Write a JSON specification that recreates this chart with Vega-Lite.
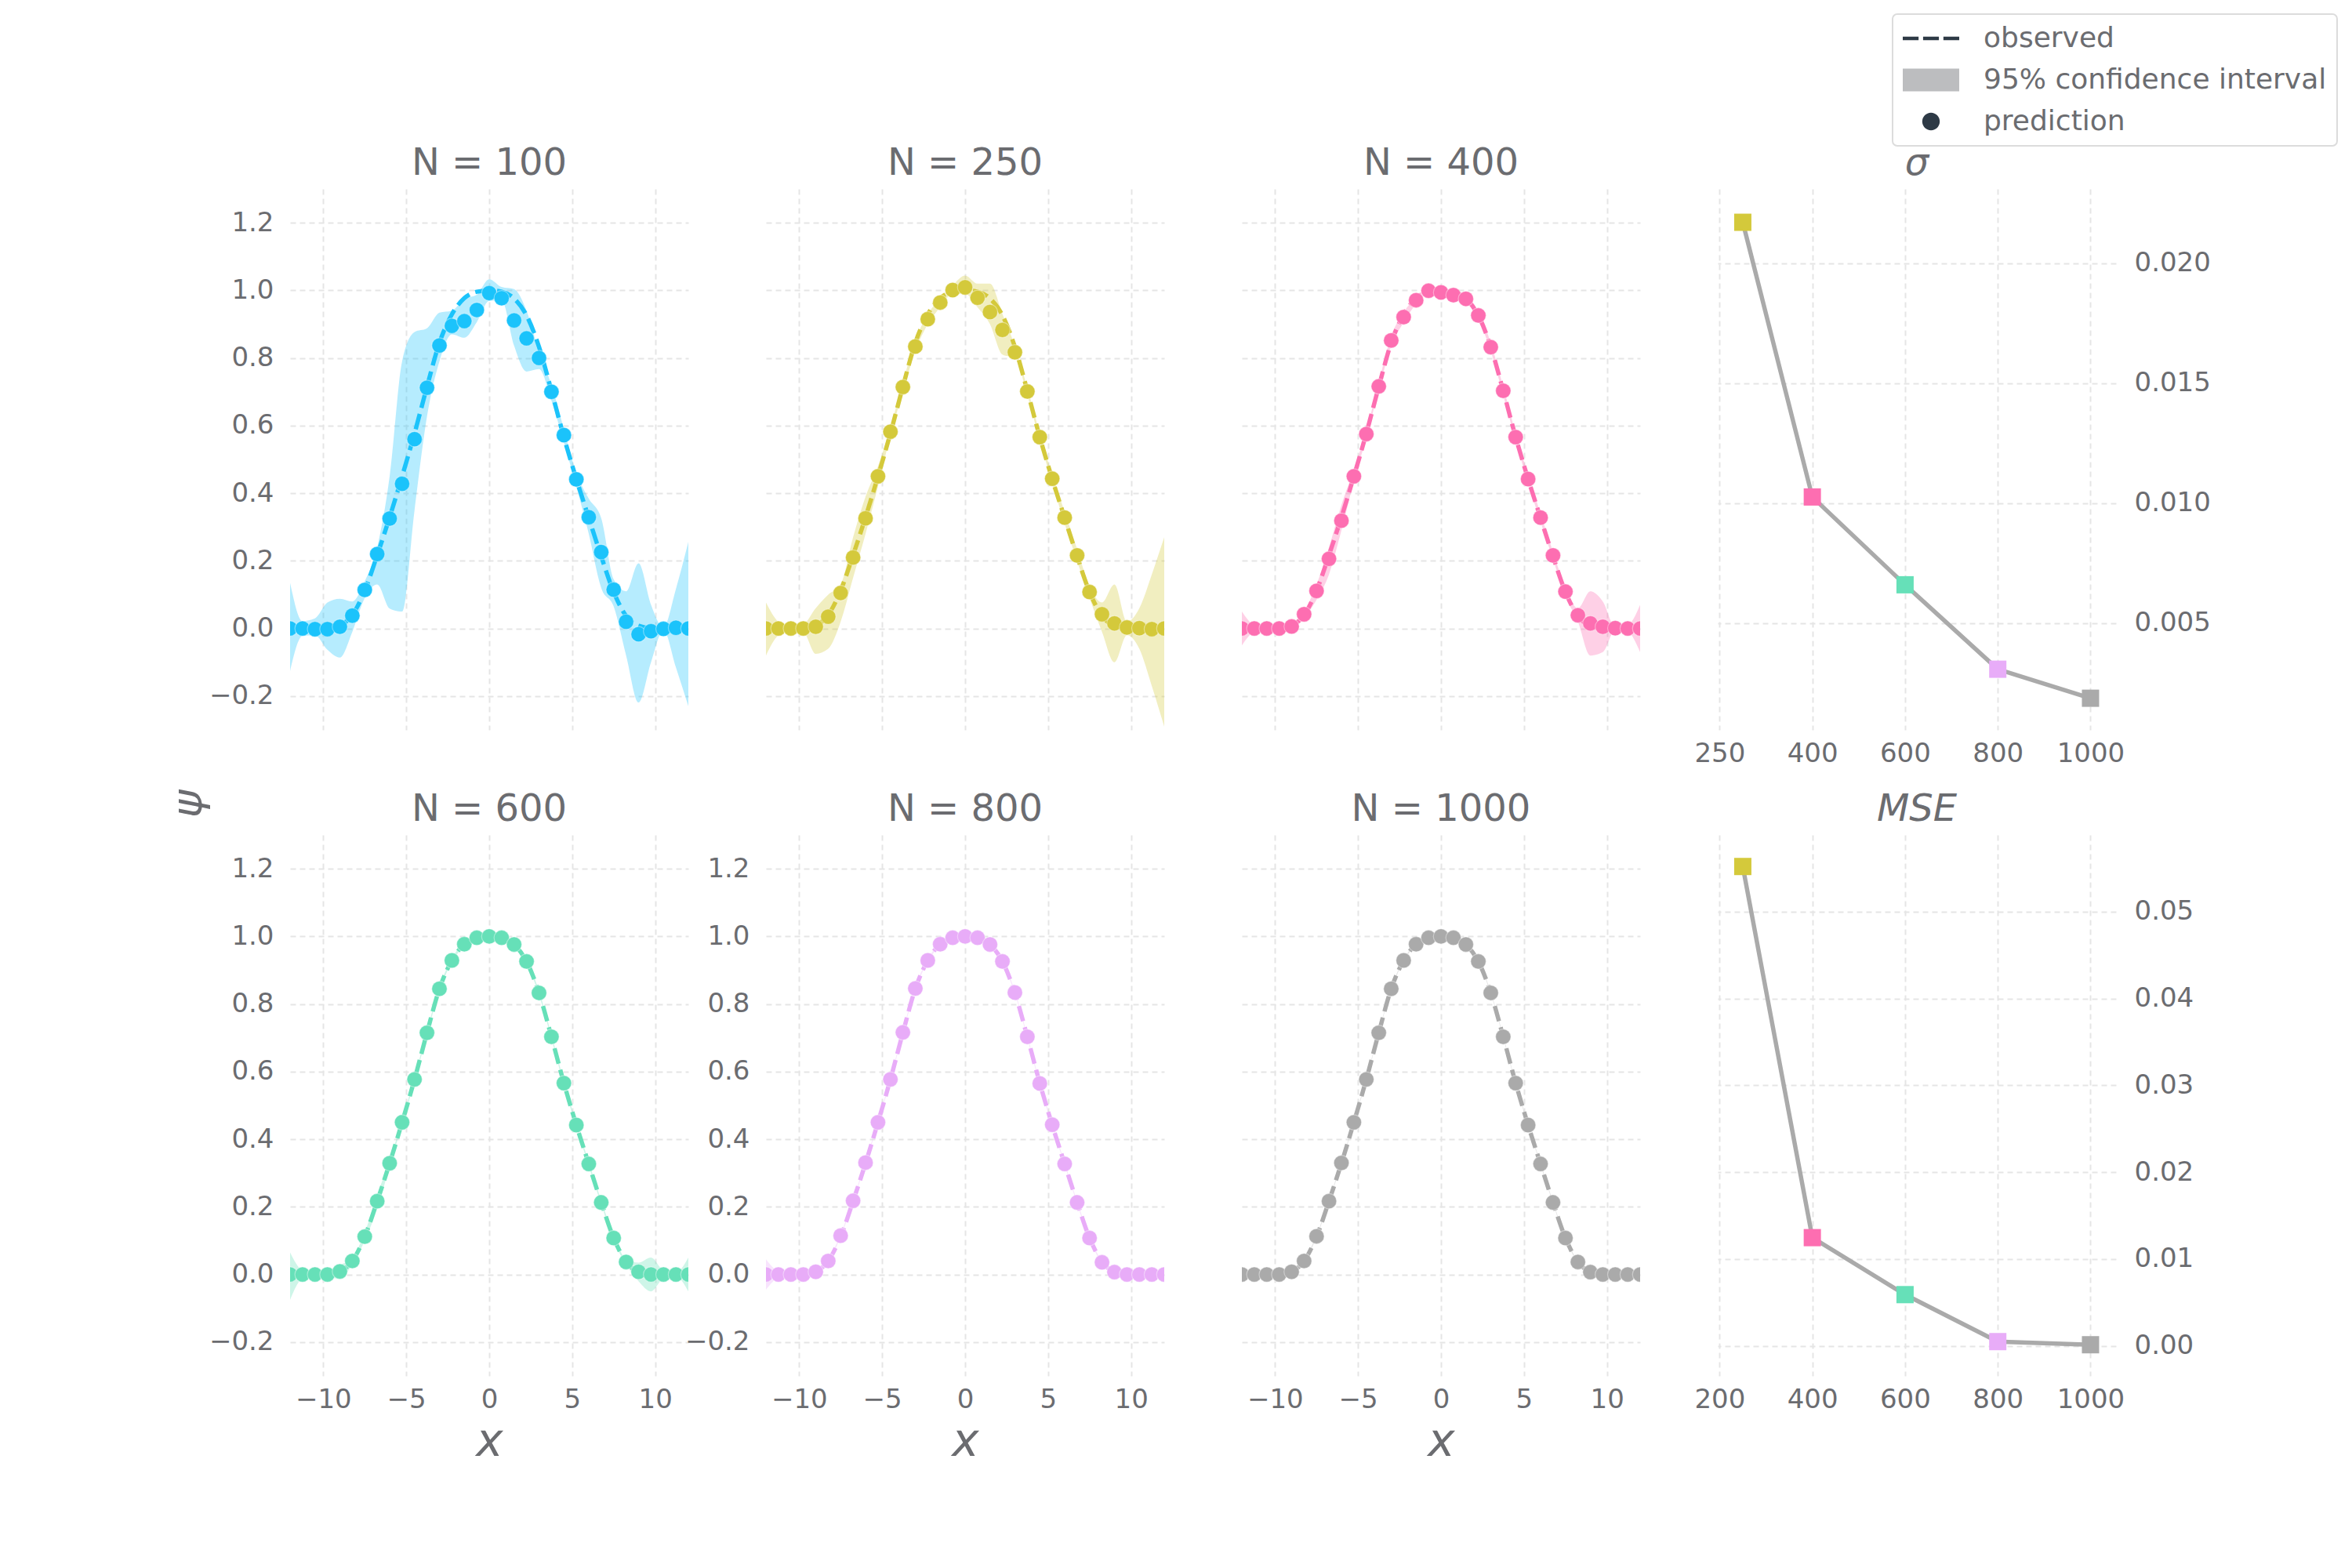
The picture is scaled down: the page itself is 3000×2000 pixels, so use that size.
{
  "$schema": "https://vega.github.io/schema/vega-lite/v6.json",
  "background": "#ffffff",
  "padding": {"left": 213, "top": 17, "right": 0, "bottom": 30},
  "columns": 4,
  "spacing": {"row": 134, "column": 99},
  "bounds": "flush",
  "datasets": {
    "obs": [
      {"x": -12, "y": 0}, {"x": -11.25, "y": 0}, {"x": -10.5, "y": 0}, {"x": -9.75, "y": 0.001},
      {"x": -9, "y": 0.009}, {"x": -8.25, "y": 0.04}, {"x": -7.5, "y": 0.112}, {"x": -6.75, "y": 0.217},
      {"x": -6, "y": 0.329}, {"x": -5.25, "y": 0.45}, {"x": -4.5, "y": 0.577}, {"x": -3.75, "y": 0.715},
      {"x": -3, "y": 0.845}, {"x": -2.25, "y": 0.929}, {"x": -1.5, "y": 0.977}, {"x": -0.75, "y": 0.996},
      {"x": 0, "y": 1}, {"x": 0.75, "y": 0.996}, {"x": 1.5, "y": 0.976}, {"x": 2.25, "y": 0.926},
      {"x": 3, "y": 0.833}, {"x": 3.75, "y": 0.703}, {"x": 4.5, "y": 0.566}, {"x": 5.25, "y": 0.442},
      {"x": 6, "y": 0.327}, {"x": 6.75, "y": 0.213}, {"x": 7.5, "y": 0.108}, {"x": 8.25, "y": 0.037},
      {"x": 9, "y": 0.008}, {"x": 9.75, "y": 0.001}, {"x": 10.5, "y": 0}, {"x": 11.25, "y": 0}, {"x": 12, "y": 0}
    ],
    "pred": [
      {"N": 100, "x": -12, "y": 0, "lo": -0.126, "hi": 0.135},
      {"N": 100, "x": -11.25, "y": 0, "lo": -0.022, "hi": 0.022},
      {"N": 100, "x": -10.5, "y": -0.002, "lo": -0.02, "hi": 0.03},
      {"N": 100, "x": -9.75, "y": -0.002, "lo": -0.063, "hi": 0.077},
      {"N": 100, "x": -9, "y": 0.005, "lo": -0.086, "hi": 0.088},
      {"N": 100, "x": -8.25, "y": 0.038, "lo": -0.01, "hi": 0.08},
      {"N": 100, "x": -7.5, "y": 0.114, "lo": 0.09, "hi": 0.14},
      {"N": 100, "x": -6.75, "y": 0.22, "lo": 0.13, "hi": 0.24},
      {"N": 100, "x": -6, "y": 0.325, "lo": 0.059, "hi": 0.45},
      {"N": 100, "x": -5.25, "y": 0.428, "lo": 0.05, "hi": 0.79},
      {"N": 100, "x": -4.5, "y": 0.56, "lo": 0.35, "hi": 0.877},
      {"N": 100, "x": -3.75, "y": 0.712, "lo": 0.627, "hi": 0.888},
      {"N": 100, "x": -3, "y": 0.837, "lo": 0.79, "hi": 0.934},
      {"N": 100, "x": -2.25, "y": 0.895, "lo": 0.87, "hi": 0.94},
      {"N": 100, "x": -1.5, "y": 0.909, "lo": 0.86, "hi": 0.975},
      {"N": 100, "x": -0.75, "y": 0.942, "lo": 0.906, "hi": 0.987},
      {"N": 100, "x": 0, "y": 0.992, "lo": 0.969, "hi": 1.033},
      {"N": 100, "x": 0.75, "y": 0.977, "lo": 0.97, "hi": 1.01},
      {"N": 100, "x": 1.5, "y": 0.911, "lo": 0.836, "hi": 1.004},
      {"N": 100, "x": 2.25, "y": 0.858, "lo": 0.76, "hi": 0.94},
      {"N": 100, "x": 3, "y": 0.8, "lo": 0.767, "hi": 0.819},
      {"N": 100, "x": 3.75, "y": 0.7, "lo": 0.674, "hi": 0.72},
      {"N": 100, "x": 4.5, "y": 0.572, "lo": 0.55, "hi": 0.59},
      {"N": 100, "x": 5.25, "y": 0.441, "lo": 0.42, "hi": 0.46},
      {"N": 100, "x": 6, "y": 0.329, "lo": 0.28, "hi": 0.384},
      {"N": 100, "x": 6.75, "y": 0.226, "lo": 0.12, "hi": 0.326},
      {"N": 100, "x": 7.5, "y": 0.115, "lo": 0.065, "hi": 0.145},
      {"N": 100, "x": 8.25, "y": 0.02, "lo": -0.08, "hi": 0.11},
      {"N": 100, "x": 9, "y": -0.017, "lo": -0.219, "hi": 0.193},
      {"N": 100, "x": 9.75, "y": -0.008, "lo": -0.1, "hi": 0.07},
      {"N": 100, "x": 10.5, "y": -0.001, "lo": -0.005, "hi": 0.003},
      {"N": 100, "x": 11.25, "y": 0.002, "lo": -0.115, "hi": 0.117},
      {"N": 100, "x": 12, "y": 0, "lo": -0.23, "hi": 0.256},

      {"N": 250, "x": -12, "y": 0, "lo": -0.08, "hi": 0.077},
      {"N": 250, "x": -11.25, "y": 0, "lo": -0.02, "hi": 0.02},
      {"N": 250, "x": -10.5, "y": 0, "lo": -0.005, "hi": 0.005},
      {"N": 250, "x": -9.75, "y": 0, "lo": -0.01, "hi": 0.012},
      {"N": 250, "x": -9, "y": 0.005, "lo": -0.075, "hi": 0.06},
      {"N": 250, "x": -8.25, "y": 0.035, "lo": -0.06, "hi": 0.1},
      {"N": 250, "x": -7.5, "y": 0.105, "lo": 0.02, "hi": 0.13},
      {"N": 250, "x": -6.75, "y": 0.21, "lo": 0.15, "hi": 0.27},
      {"N": 250, "x": -6, "y": 0.326, "lo": 0.28, "hi": 0.39},
      {"N": 250, "x": -5.25, "y": 0.45, "lo": 0.42, "hi": 0.48},
      {"N": 250, "x": -4.5, "y": 0.582, "lo": 0.57, "hi": 0.595},
      {"N": 250, "x": -3.75, "y": 0.714, "lo": 0.7, "hi": 0.728},
      {"N": 250, "x": -3, "y": 0.834, "lo": 0.82, "hi": 0.85},
      {"N": 250, "x": -2.25, "y": 0.915, "lo": 0.9, "hi": 0.93},
      {"N": 250, "x": -1.5, "y": 0.964, "lo": 0.95, "hi": 0.975},
      {"N": 250, "x": -0.75, "y": 1.001, "lo": 0.99, "hi": 1.015},
      {"N": 250, "x": 0, "y": 1.009, "lo": 0.99, "hi": 1.044},
      {"N": 250, "x": 0.75, "y": 0.978, "lo": 0.95, "hi": 1.02},
      {"N": 250, "x": 1.5, "y": 0.936, "lo": 0.9, "hi": 1.02},
      {"N": 250, "x": 2.25, "y": 0.883, "lo": 0.81, "hi": 0.93},
      {"N": 250, "x": 3, "y": 0.817, "lo": 0.8, "hi": 0.835},
      {"N": 250, "x": 3.75, "y": 0.701, "lo": 0.69, "hi": 0.712},
      {"N": 250, "x": 4.5, "y": 0.566, "lo": 0.555, "hi": 0.577},
      {"N": 250, "x": 5.25, "y": 0.443, "lo": 0.43, "hi": 0.455},
      {"N": 250, "x": 6, "y": 0.328, "lo": 0.31, "hi": 0.345},
      {"N": 250, "x": 6.75, "y": 0.216, "lo": 0.2, "hi": 0.235},
      {"N": 250, "x": 7.5, "y": 0.108, "lo": 0.09, "hi": 0.125},
      {"N": 250, "x": 8.25, "y": 0.042, "lo": -0.01, "hi": 0.077},
      {"N": 250, "x": 9, "y": 0.015, "lo": -0.1, "hi": 0.13},
      {"N": 250, "x": 9.75, "y": 0.003, "lo": -0.02, "hi": 0.02},
      {"N": 250, "x": 10.5, "y": 0.001, "lo": -0.06, "hi": 0.06},
      {"N": 250, "x": 11.25, "y": -0.002, "lo": -0.17, "hi": 0.16},
      {"N": 250, "x": 12, "y": 0, "lo": -0.29, "hi": 0.27},

      {"N": 400, "x": -12, "y": 0, "lo": -0.05, "hi": 0.05},
      {"N": 400, "x": -11.25, "y": 0, "lo": -0.01, "hi": 0.01},
      {"N": 400, "x": -10.5, "y": 0, "lo": -0.003, "hi": 0.003},
      {"N": 400, "x": -9.75, "y": 0, "lo": -0.003, "hi": 0.003},
      {"N": 400, "x": -9, "y": 0.006, "lo": 0, "hi": 0.012},
      {"N": 400, "x": -8.25, "y": 0.042, "lo": 0.03, "hi": 0.05},
      {"N": 400, "x": -7.5, "y": 0.111, "lo": 0.085, "hi": 0.13},
      {"N": 400, "x": -6.75, "y": 0.206, "lo": 0.16, "hi": 0.24},
      {"N": 400, "x": -6, "y": 0.319, "lo": 0.29, "hi": 0.365},
      {"N": 400, "x": -5.25, "y": 0.45, "lo": 0.435, "hi": 0.47},
      {"N": 400, "x": -4.5, "y": 0.575, "lo": 0.565, "hi": 0.585},
      {"N": 400, "x": -3.75, "y": 0.716, "lo": 0.705, "hi": 0.727},
      {"N": 400, "x": -3, "y": 0.852, "lo": 0.835, "hi": 0.865},
      {"N": 400, "x": -2.25, "y": 0.921, "lo": 0.905, "hi": 0.935},
      {"N": 400, "x": -1.5, "y": 0.971, "lo": 0.96, "hi": 0.98},
      {"N": 400, "x": -0.75, "y": 0.999, "lo": 0.99, "hi": 1.005},
      {"N": 400, "x": 0, "y": 0.994, "lo": 0.985, "hi": 1},
      {"N": 400, "x": 0.75, "y": 0.986, "lo": 0.978, "hi": 0.995},
      {"N": 400, "x": 1.5, "y": 0.975, "lo": 0.965, "hi": 0.985},
      {"N": 400, "x": 2.25, "y": 0.926, "lo": 0.915, "hi": 0.937},
      {"N": 400, "x": 3, "y": 0.832, "lo": 0.82, "hi": 0.845},
      {"N": 400, "x": 3.75, "y": 0.703, "lo": 0.69, "hi": 0.715},
      {"N": 400, "x": 4.5, "y": 0.566, "lo": 0.555, "hi": 0.577},
      {"N": 400, "x": 5.25, "y": 0.442, "lo": 0.43, "hi": 0.455},
      {"N": 400, "x": 6, "y": 0.328, "lo": 0.315, "hi": 0.34},
      {"N": 400, "x": 6.75, "y": 0.216, "lo": 0.205, "hi": 0.227},
      {"N": 400, "x": 7.5, "y": 0.109, "lo": 0.095, "hi": 0.12},
      {"N": 400, "x": 8.25, "y": 0.039, "lo": 0.02, "hi": 0.06},
      {"N": 400, "x": 9, "y": 0.015, "lo": -0.08, "hi": 0.11},
      {"N": 400, "x": 9.75, "y": 0.005, "lo": -0.07, "hi": 0.08},
      {"N": 400, "x": 10.5, "y": 0.001, "lo": -0.005, "hi": 0.005},
      {"N": 400, "x": 11.25, "y": 0, "lo": -0.01, "hi": 0.01},
      {"N": 400, "x": 12, "y": 0, "lo": -0.07, "hi": 0.07},

      {"N": 600, "x": -12, "y": 0, "lo": -0.075, "hi": 0.065},
      {"N": 600, "x": -11.25, "y": 0, "lo": -0.012, "hi": 0.012},
      {"N": 600, "x": -10.5, "y": 0, "lo": -0.005, "hi": 0.005},
      {"N": 600, "x": -9.75, "y": 0, "lo": -0.01, "hi": 0.01},
      {"N": 600, "x": -9, "y": 0.009, "lo": -0.012, "hi": 0.028},
      {"N": 600, "x": -8.25, "y": 0.04, "lo": 0.03, "hi": 0.05},
      {"N": 600, "x": -7.5, "y": 0.112, "lo": 0.1, "hi": 0.124},
      {"N": 600, "x": -6.75, "y": 0.217, "lo": 0.195, "hi": 0.235},
      {"N": 600, "x": -6, "y": 0.329, "lo": 0.32, "hi": 0.338},
      {"N": 600, "x": -5.25, "y": 0.45, "lo": 0.444, "hi": 0.456},
      {"N": 600, "x": -4.5, "y": 0.577, "lo": 0.571, "hi": 0.583},
      {"N": 600, "x": -3.75, "y": 0.715, "lo": 0.709, "hi": 0.721},
      {"N": 600, "x": -3, "y": 0.845, "lo": 0.839, "hi": 0.851},
      {"N": 600, "x": -2.25, "y": 0.929, "lo": 0.923, "hi": 0.935},
      {"N": 600, "x": -1.5, "y": 0.977, "lo": 0.971, "hi": 0.983},
      {"N": 600, "x": -0.75, "y": 0.996, "lo": 0.99, "hi": 1.002},
      {"N": 600, "x": 0, "y": 1, "lo": 0.994, "hi": 1.006},
      {"N": 600, "x": 0.75, "y": 0.996, "lo": 0.99, "hi": 1.002},
      {"N": 600, "x": 1.5, "y": 0.976, "lo": 0.97, "hi": 0.982},
      {"N": 600, "x": 2.25, "y": 0.926, "lo": 0.92, "hi": 0.932},
      {"N": 600, "x": 3, "y": 0.833, "lo": 0.827, "hi": 0.839},
      {"N": 600, "x": 3.75, "y": 0.703, "lo": 0.697, "hi": 0.709},
      {"N": 600, "x": 4.5, "y": 0.566, "lo": 0.56, "hi": 0.572},
      {"N": 600, "x": 5.25, "y": 0.442, "lo": 0.436, "hi": 0.448},
      {"N": 600, "x": 6, "y": 0.327, "lo": 0.321, "hi": 0.333},
      {"N": 600, "x": 6.75, "y": 0.213, "lo": 0.207, "hi": 0.219},
      {"N": 600, "x": 7.5, "y": 0.108, "lo": 0.1, "hi": 0.116},
      {"N": 600, "x": 8.25, "y": 0.037, "lo": 0.03, "hi": 0.045},
      {"N": 600, "x": 9, "y": 0.008, "lo": -0.02, "hi": 0.035},
      {"N": 600, "x": 9.75, "y": 0, "lo": -0.05, "hi": 0.05},
      {"N": 600, "x": 10.5, "y": 0, "lo": -0.012, "hi": 0.012},
      {"N": 600, "x": 11.25, "y": 0, "lo": -0.006, "hi": 0.006},
      {"N": 600, "x": 12, "y": 0, "lo": -0.05, "hi": 0.05},

      {"N": 800, "x": -12, "y": 0, "lo": -0.045, "hi": 0.045},
      {"N": 800, "x": -11.25, "y": 0, "lo": -0.01, "hi": 0.01},
      {"N": 800, "x": -10.5, "y": 0, "lo": -0.004, "hi": 0.004},
      {"N": 800, "x": -9.75, "y": 0, "lo": -0.004, "hi": 0.004},
      {"N": 800, "x": -9, "y": 0.008, "lo": 0.004, "hi": 0.012},
      {"N": 800, "x": -8.25, "y": 0.04, "lo": 0.036, "hi": 0.044},
      {"N": 800, "x": -7.5, "y": 0.115, "lo": 0.111, "hi": 0.119},
      {"N": 800, "x": -6.75, "y": 0.218, "lo": 0.214, "hi": 0.222},
      {"N": 800, "x": -6, "y": 0.331, "lo": 0.327, "hi": 0.335},
      {"N": 800, "x": -5.25, "y": 0.45, "lo": 0.446, "hi": 0.454},
      {"N": 800, "x": -4.5, "y": 0.577, "lo": 0.573, "hi": 0.581},
      {"N": 800, "x": -3.75, "y": 0.716, "lo": 0.712, "hi": 0.72},
      {"N": 800, "x": -3, "y": 0.846, "lo": 0.842, "hi": 0.85},
      {"N": 800, "x": -2.25, "y": 0.929, "lo": 0.925, "hi": 0.933},
      {"N": 800, "x": -1.5, "y": 0.977, "lo": 0.973, "hi": 0.981},
      {"N": 800, "x": -0.75, "y": 0.996, "lo": 0.992, "hi": 1},
      {"N": 800, "x": 0, "y": 1, "lo": 0.996, "hi": 1.004},
      {"N": 800, "x": 0.75, "y": 0.996, "lo": 0.992, "hi": 1},
      {"N": 800, "x": 1.5, "y": 0.976, "lo": 0.972, "hi": 0.98},
      {"N": 800, "x": 2.25, "y": 0.926, "lo": 0.922, "hi": 0.93},
      {"N": 800, "x": 3, "y": 0.834, "lo": 0.83, "hi": 0.838},
      {"N": 800, "x": 3.75, "y": 0.703, "lo": 0.699, "hi": 0.707},
      {"N": 800, "x": 4.5, "y": 0.565, "lo": 0.561, "hi": 0.569},
      {"N": 800, "x": 5.25, "y": 0.443, "lo": 0.439, "hi": 0.447},
      {"N": 800, "x": 6, "y": 0.327, "lo": 0.323, "hi": 0.331},
      {"N": 800, "x": 6.75, "y": 0.213, "lo": 0.209, "hi": 0.217},
      {"N": 800, "x": 7.5, "y": 0.108, "lo": 0.104, "hi": 0.112},
      {"N": 800, "x": 8.25, "y": 0.036, "lo": 0.032, "hi": 0.04},
      {"N": 800, "x": 9, "y": 0.007, "lo": 0.003, "hi": 0.011},
      {"N": 800, "x": 9.75, "y": 0, "lo": -0.004, "hi": 0.004},
      {"N": 800, "x": 10.5, "y": 0, "lo": -0.004, "hi": 0.004},
      {"N": 800, "x": 11.25, "y": 0, "lo": -0.006, "hi": 0.006},
      {"N": 800, "x": 12, "y": 0, "lo": -0.02, "hi": 0.02},

      {"N": 1000, "x": -12, "y": 0, "lo": -0.012, "hi": 0.012},
      {"N": 1000, "x": -11.25, "y": 0, "lo": -0.003, "hi": 0.003},
      {"N": 1000, "x": -10.5, "y": 0, "lo": -0.003, "hi": 0.003},
      {"N": 1000, "x": -9.75, "y": 0, "lo": -0.003, "hi": 0.003},
      {"N": 1000, "x": -9, "y": 0.008, "lo": 0.005, "hi": 0.011},
      {"N": 1000, "x": -8.25, "y": 0.04, "lo": 0.037, "hi": 0.043},
      {"N": 1000, "x": -7.5, "y": 0.113, "lo": 0.11, "hi": 0.116},
      {"N": 1000, "x": -6.75, "y": 0.217, "lo": 0.214, "hi": 0.22},
      {"N": 1000, "x": -6, "y": 0.33, "lo": 0.327, "hi": 0.333},
      {"N": 1000, "x": -5.25, "y": 0.45, "lo": 0.447, "hi": 0.453},
      {"N": 1000, "x": -4.5, "y": 0.577, "lo": 0.574, "hi": 0.58},
      {"N": 1000, "x": -3.75, "y": 0.715, "lo": 0.712, "hi": 0.718},
      {"N": 1000, "x": -3, "y": 0.845, "lo": 0.842, "hi": 0.848},
      {"N": 1000, "x": -2.25, "y": 0.929, "lo": 0.926, "hi": 0.932},
      {"N": 1000, "x": -1.5, "y": 0.977, "lo": 0.974, "hi": 0.98},
      {"N": 1000, "x": -0.75, "y": 0.996, "lo": 0.993, "hi": 0.999},
      {"N": 1000, "x": 0, "y": 1, "lo": 0.997, "hi": 1.003},
      {"N": 1000, "x": 0.75, "y": 0.996, "lo": 0.993, "hi": 0.999},
      {"N": 1000, "x": 1.5, "y": 0.976, "lo": 0.973, "hi": 0.979},
      {"N": 1000, "x": 2.25, "y": 0.926, "lo": 0.923, "hi": 0.929},
      {"N": 1000, "x": 3, "y": 0.833, "lo": 0.83, "hi": 0.836},
      {"N": 1000, "x": 3.75, "y": 0.703, "lo": 0.7, "hi": 0.706},
      {"N": 1000, "x": 4.5, "y": 0.566, "lo": 0.563, "hi": 0.569},
      {"N": 1000, "x": 5.25, "y": 0.442, "lo": 0.439, "hi": 0.445},
      {"N": 1000, "x": 6, "y": 0.327, "lo": 0.324, "hi": 0.33},
      {"N": 1000, "x": 6.75, "y": 0.213, "lo": 0.21, "hi": 0.216},
      {"N": 1000, "x": 7.5, "y": 0.108, "lo": 0.105, "hi": 0.111},
      {"N": 1000, "x": 8.25, "y": 0.037, "lo": 0.034, "hi": 0.04},
      {"N": 1000, "x": 9, "y": 0.007, "lo": 0.004, "hi": 0.01},
      {"N": 1000, "x": 9.75, "y": 0, "lo": -0.003, "hi": 0.003},
      {"N": 1000, "x": 10.5, "y": 0, "lo": -0.003, "hi": 0.003},
      {"N": 1000, "x": 11.25, "y": 0, "lo": -0.003, "hi": 0.003},
      {"N": 1000, "x": 12, "y": 0, "lo": -0.012, "hi": 0.012}
    ],
    "stats": [
      {"N": 250, "sigma": 0.0217, "mse": 0.0552},
      {"N": 400, "sigma": 0.01025, "mse": 0.01247},
      {"N": 600, "sigma": 0.00659, "mse": 0.00591},
      {"N": 800, "sigma": 0.00307, "mse": 0.0005},
      {"N": 1000, "sigma": 0.00186, "mse": 0.00014}
    ]
  },
  "concat": [
    {
      "width": 508, "height": 690,
      "title": "N = 100",
      "layer": [
        {
          "data": {"name": "pred"},
          "transform": [{"filter": "datum.N == 100"}],
          "mark": {"type": "area", "color": "#1bc3fb", "opacity": 0.32, "interpolate": "monotone", "clip": true},
          "encoding": {
            "x": {"field": "x", "type": "quantitative", "scale": {"domain": [-12, 12]}, "axis": {"values": [-10, -5, 0, 5, 10], "labels": false, "title": null}},
            "y": {"field": "lo", "type": "quantitative", "scale": {"domain": [-0.3, 1.3]}, "axis": {"values": [-0.2, 0, 0.2, 0.4, 0.6, 0.8, 1, 1.2], "format": ".1f", "title": "ψ", "titleX": -103, "titleY": 784, "titleAngle": 270, "titleAlign": "center", "titleBaseline": "bottom", "titleFontSize": 54}},
            "y2": {"field": "hi"}
          }
        },
        {
          "data": {"name": "obs"},
          "mark": {"type": "line", "color": "#1bc3fb", "strokeWidth": 5.5, "strokeDash": [20, 8], "interpolate": "monotone", "clip": true},
          "encoding": {
            "x": {"field": "x", "type": "quantitative", "scale": {"domain": [-12, 12]}},
            "y": {"field": "y", "type": "quantitative", "scale": {"domain": [-0.3, 1.3]}}
          }
        },
        {
          "data": {"name": "pred"},
          "transform": [{"filter": "datum.N == 100"}],
          "mark": {"type": "point", "filled": true, "size": 380, "color": "#1bc3fb", "opacity": 1, "stroke": "#ffffff", "strokeWidth": 1.2, "strokeOpacity": 0.4, "clip": true},
          "encoding": {
            "x": {"field": "x", "type": "quantitative", "scale": {"domain": [-12, 12]}},
            "y": {"field": "y", "type": "quantitative", "scale": {"domain": [-0.3, 1.3]}}
          }
        },
        {
          "data": {"name": "obs"},
          "mark": {"type": "point", "filled": true, "opacity": 0, "size": 10},
          "encoding": {
            "x": {"field": "x", "type": "quantitative", "scale": {"domain": [-12, 12]}},
            "y": {"field": "y", "type": "quantitative", "scale": {"domain": [-0.3, 1.3]}},
            "fill": {
              "datum": "prediction",
              "type": "nominal",
              "scale": {"domain": ["observed", "95% confidence interval", "prediction"], "range": ["#2e3a46", "#bcbdbf", "#2e3a46"]},
              "legend": {
                "title": null, "orient": "none", "legendX": 2044, "legendY": -223,
                "symbolSize": 5184, "symbolOpacity": 1, "symbolStrokeWidth": 0, "clipHeight": 36,
                "rowPadding": 17, "labelOffset": 31, "labelFontSize": 36, "labelLimit": 800, "labelColor": "#6b6c70"
              }
            },
            "shape": {
              "datum": "prediction",
              "type": "nominal",
              "scale": {
                "domain": ["observed", "95% confidence interval", "prediction"],
                "range": ["M-1,-0.06H-0.44V0.06H-1Z M-0.28,-0.06H0.28V0.06H-0.28Z M0.44,-0.06H1V0.06H0.44Z", "M-1,-0.4H1V0.4H-1Z", "M-0.31,0A0.31,0.31,0,1,0,0.31,0A0.31,0.31,0,1,0,-0.31,0Z"]
              },
              "legend": {
                "title": null, "orient": "none", "legendX": 2044, "legendY": -223,
                "symbolSize": 5184, "symbolOpacity": 1, "symbolStrokeWidth": 0, "clipHeight": 36,
                "rowPadding": 17, "labelOffset": 31, "labelFontSize": 36, "labelLimit": 800, "labelColor": "#6b6c70"
              }
            }
          }
        }
      ]
    },
    {
      "width": 508, "height": 690,
      "title": "N = 250",
      "layer": [
        {
          "data": {"name": "pred"},
          "transform": [{"filter": "datum.N == 250"}],
          "mark": {"type": "area", "color": "#d4c93b", "opacity": 0.32, "interpolate": "monotone", "clip": true},
          "encoding": {
            "x": {"field": "x", "type": "quantitative", "scale": {"domain": [-12, 12]}, "axis": {"values": [-10, -5, 0, 5, 10], "labels": false, "title": null}},
            "y": {"field": "lo", "type": "quantitative", "scale": {"domain": [-0.3, 1.3]}, "axis": {"values": [-0.2, 0, 0.2, 0.4, 0.6, 0.8, 1, 1.2], "labels": false, "title": null}},
            "y2": {"field": "hi"}
          }
        },
        {
          "data": {"name": "obs"},
          "mark": {"type": "line", "color": "#d4c93b", "strokeWidth": 5.5, "strokeDash": [20, 8], "interpolate": "monotone", "clip": true},
          "encoding": {
            "x": {"field": "x", "type": "quantitative", "scale": {"domain": [-12, 12]}},
            "y": {"field": "y", "type": "quantitative", "scale": {"domain": [-0.3, 1.3]}}
          }
        },
        {
          "data": {"name": "pred"},
          "transform": [{"filter": "datum.N == 250"}],
          "mark": {"type": "point", "filled": true, "size": 380, "color": "#d4c93b", "opacity": 1, "stroke": "#ffffff", "strokeWidth": 1.2, "strokeOpacity": 0.4, "clip": true},
          "encoding": {
            "x": {"field": "x", "type": "quantitative", "scale": {"domain": [-12, 12]}},
            "y": {"field": "y", "type": "quantitative", "scale": {"domain": [-0.3, 1.3]}}
          }
        }
      ]
    },
    {
      "width": 508, "height": 690,
      "title": "N = 400",
      "layer": [
        {
          "data": {"name": "pred"},
          "transform": [{"filter": "datum.N == 400"}],
          "mark": {"type": "area", "color": "#fd6eb1", "opacity": 0.32, "interpolate": "monotone", "clip": true},
          "encoding": {
            "x": {"field": "x", "type": "quantitative", "scale": {"domain": [-12, 12]}, "axis": {"values": [-10, -5, 0, 5, 10], "labels": false, "title": null}},
            "y": {"field": "lo", "type": "quantitative", "scale": {"domain": [-0.3, 1.3]}, "axis": {"values": [-0.2, 0, 0.2, 0.4, 0.6, 0.8, 1, 1.2], "labels": false, "title": null}},
            "y2": {"field": "hi"}
          }
        },
        {
          "data": {"name": "obs"},
          "mark": {"type": "line", "color": "#fd6eb1", "strokeWidth": 5.5, "strokeDash": [20, 8], "interpolate": "monotone", "clip": true},
          "encoding": {
            "x": {"field": "x", "type": "quantitative", "scale": {"domain": [-12, 12]}},
            "y": {"field": "y", "type": "quantitative", "scale": {"domain": [-0.3, 1.3]}}
          }
        },
        {
          "data": {"name": "pred"},
          "transform": [{"filter": "datum.N == 400"}],
          "mark": {"type": "point", "filled": true, "size": 380, "color": "#fd6eb1", "opacity": 1, "stroke": "#ffffff", "strokeWidth": 1.2, "strokeOpacity": 0.4, "clip": true},
          "encoding": {
            "x": {"field": "x", "type": "quantitative", "scale": {"domain": [-12, 12]}},
            "y": {"field": "y", "type": "quantitative", "scale": {"domain": [-0.3, 1.3]}}
          }
        }
      ]
    },
    {
      "width": 508, "height": 690,
      "title": {"text": "σ", "fontStyle": "italic"},
      "data": {"name": "stats"},
      "layer": [
        {
          "mark": {"type": "line", "color": "#aaaaaa", "strokeWidth": 5.5},
          "encoding": {
            "x": {"field": "N", "type": "quantitative", "scale": {"domain": [196, 1055]}, "axis": {"values": [200, 400, 600, 800, 1000], "format": "d", "labelExpr": "datum.value == 200 ? '250' : datum.label", "labelPadding": 13, "title": null}},
            "y": {"field": "sigma", "type": "quantitative", "scale": {"domain": [0.00054, 0.02309]}, "axis": {"orient": "right", "values": [0.005, 0.01, 0.015, 0.02], "format": ".3f", "labelPadding": 23, "title": null}}
          }
        },
        {
          "mark": {"type": "point", "shape": "square", "filled": true, "size": 484, "opacity": 1},
          "encoding": {
            "x": {"field": "N", "type": "quantitative", "scale": {"domain": [196, 1055]}},
            "y": {"field": "sigma", "type": "quantitative", "scale": {"domain": [0.00054, 0.02309]}},
            "color": {"field": "N", "type": "nominal", "scale": {"domain": [250, 400, 600, 800, 1000], "range": ["#d4c93b", "#fd6eb1", "#66e0b8", "#e8acf8", "#aaaaaa"]}, "legend": null}
          }
        }
      ]
    },
    {
      "width": 508, "height": 690,
      "title": "N = 600",
      "layer": [
        {
          "data": {"name": "pred"},
          "transform": [{"filter": "datum.N == 600"}],
          "mark": {"type": "area", "color": "#66e0b8", "opacity": 0.32, "interpolate": "monotone", "clip": true},
          "encoding": {
            "x": {"field": "x", "type": "quantitative", "scale": {"domain": [-12, 12]}, "axis": {"values": [-10, -5, 0, 5, 10], "labelPadding": 13, "title": "x", "titlePadding": 8}},
            "y": {"field": "lo", "type": "quantitative", "scale": {"domain": [-0.3, 1.3]}, "axis": {"values": [-0.2, 0, 0.2, 0.4, 0.6, 0.8, 1, 1.2], "format": ".1f", "title": null}},
            "y2": {"field": "hi"}
          }
        },
        {
          "data": {"name": "obs"},
          "mark": {"type": "line", "color": "#66e0b8", "strokeWidth": 5.5, "strokeDash": [20, 8], "interpolate": "monotone", "clip": true},
          "encoding": {
            "x": {"field": "x", "type": "quantitative", "scale": {"domain": [-12, 12]}},
            "y": {"field": "y", "type": "quantitative", "scale": {"domain": [-0.3, 1.3]}}
          }
        },
        {
          "data": {"name": "pred"},
          "transform": [{"filter": "datum.N == 600"}],
          "mark": {"type": "point", "filled": true, "size": 380, "color": "#66e0b8", "opacity": 1, "stroke": "#ffffff", "strokeWidth": 1.2, "strokeOpacity": 0.4, "clip": true},
          "encoding": {
            "x": {"field": "x", "type": "quantitative", "scale": {"domain": [-12, 12]}},
            "y": {"field": "y", "type": "quantitative", "scale": {"domain": [-0.3, 1.3]}}
          }
        }
      ]
    },
    {
      "width": 508, "height": 690,
      "title": "N = 800",
      "layer": [
        {
          "data": {"name": "pred"},
          "transform": [{"filter": "datum.N == 800"}],
          "mark": {"type": "area", "color": "#e8acf8", "opacity": 0.32, "interpolate": "monotone", "clip": true},
          "encoding": {
            "x": {"field": "x", "type": "quantitative", "scale": {"domain": [-12, 12]}, "axis": {"values": [-10, -5, 0, 5, 10], "labelPadding": 13, "title": "x", "titlePadding": 8}},
            "y": {"field": "lo", "type": "quantitative", "scale": {"domain": [-0.3, 1.3]}, "axis": {"values": [-0.2, 0, 0.2, 0.4, 0.6, 0.8, 1, 1.2], "format": ".1f", "title": null}},
            "y2": {"field": "hi"}
          }
        },
        {
          "data": {"name": "obs"},
          "mark": {"type": "line", "color": "#e8acf8", "strokeWidth": 5.5, "strokeDash": [20, 8], "interpolate": "monotone", "clip": true},
          "encoding": {
            "x": {"field": "x", "type": "quantitative", "scale": {"domain": [-12, 12]}},
            "y": {"field": "y", "type": "quantitative", "scale": {"domain": [-0.3, 1.3]}}
          }
        },
        {
          "data": {"name": "pred"},
          "transform": [{"filter": "datum.N == 800"}],
          "mark": {"type": "point", "filled": true, "size": 380, "color": "#e8acf8", "opacity": 1, "stroke": "#ffffff", "strokeWidth": 1.2, "strokeOpacity": 0.4, "clip": true},
          "encoding": {
            "x": {"field": "x", "type": "quantitative", "scale": {"domain": [-12, 12]}},
            "y": {"field": "y", "type": "quantitative", "scale": {"domain": [-0.3, 1.3]}}
          }
        }
      ]
    },
    {
      "width": 508, "height": 690,
      "title": "N = 1000",
      "layer": [
        {
          "data": {"name": "pred"},
          "transform": [{"filter": "datum.N == 1000"}],
          "mark": {"type": "area", "color": "#aaaaaa", "opacity": 0.32, "interpolate": "monotone", "clip": true},
          "encoding": {
            "x": {"field": "x", "type": "quantitative", "scale": {"domain": [-12, 12]}, "axis": {"values": [-10, -5, 0, 5, 10], "labelPadding": 13, "title": "x", "titlePadding": 8}},
            "y": {"field": "lo", "type": "quantitative", "scale": {"domain": [-0.3, 1.3]}, "axis": {"values": [-0.2, 0, 0.2, 0.4, 0.6, 0.8, 1, 1.2], "labels": false, "title": null}},
            "y2": {"field": "hi"}
          }
        },
        {
          "data": {"name": "obs"},
          "mark": {"type": "line", "color": "#aaaaaa", "strokeWidth": 5.5, "strokeDash": [20, 8], "interpolate": "monotone", "clip": true},
          "encoding": {
            "x": {"field": "x", "type": "quantitative", "scale": {"domain": [-12, 12]}},
            "y": {"field": "y", "type": "quantitative", "scale": {"domain": [-0.3, 1.3]}}
          }
        },
        {
          "data": {"name": "pred"},
          "transform": [{"filter": "datum.N == 1000"}],
          "mark": {"type": "point", "filled": true, "size": 380, "color": "#aaaaaa", "opacity": 1, "stroke": "#ffffff", "strokeWidth": 1.2, "strokeOpacity": 0.4, "clip": true},
          "encoding": {
            "x": {"field": "x", "type": "quantitative", "scale": {"domain": [-12, 12]}},
            "y": {"field": "y", "type": "quantitative", "scale": {"domain": [-0.3, 1.3]}}
          }
        }
      ]
    },
    {
      "width": 508, "height": 690,
      "title": {"text": "MSE", "fontStyle": "italic"},
      "data": {"name": "stats"},
      "layer": [
        {
          "mark": {"type": "line", "color": "#aaaaaa", "strokeWidth": 5.5},
          "encoding": {
            "x": {"field": "N", "type": "quantitative", "scale": {"domain": [196, 1055]}, "axis": {"values": [200, 400, 600, 800, 1000], "format": "d", "labelPadding": 13, "title": null}},
            "y": {"field": "mse", "type": "quantitative", "scale": {"domain": [-0.00345, 0.05883]}, "axis": {"orient": "right", "values": [0, 0.01, 0.02, 0.03, 0.04, 0.05], "format": ".2f", "labelPadding": 23, "title": null}}
          }
        },
        {
          "mark": {"type": "point", "shape": "square", "filled": true, "size": 484, "opacity": 1},
          "encoding": {
            "x": {"field": "N", "type": "quantitative", "scale": {"domain": [196, 1055]}},
            "y": {"field": "mse", "type": "quantitative", "scale": {"domain": [-0.00345, 0.05883]}},
            "color": {"field": "N", "type": "nominal", "scale": {"domain": [250, 400, 600, 800, 1000], "range": ["#d4c93b", "#fd6eb1", "#66e0b8", "#e8acf8", "#aaaaaa"]}, "legend": null}
          }
        }
      ]
    }
  ],
  "config": {
    "font": "DejaVu Sans",
    "view": {"stroke": null},
    "axis": {
      "grid": true,
      "gridColor": "#e5e5e5",
      "gridDash": [7, 5],
      "gridWidth": 2,
      "domain": false,
      "ticks": false,
      "labelFont": "DejaVu Sans",
      "labelFontSize": 34,
      "labelColor": "#6b6c70",
      "titleFont": "DejaVu Sans",
      "titleFontSize": 58,
      "titleFontStyle": "italic",
      "titleFontWeight": "normal",
      "titleColor": "#6b6c70"
    },
    "axisY": {"labelPadding": 21},
    "title": {"font": "DejaVu Sans", "fontSize": 48, "fontWeight": "normal", "color": "#6b6c70", "offset": 8, "frame": "group", "anchor": "middle"},
    "legend": {"fillColor": "#ffffff", "strokeColor": "#dcdcdc", "strokeWidth": 2, "cornerRadius": 6, "padding": 13, "labelFont": "DejaVu Sans"}
  }
}
